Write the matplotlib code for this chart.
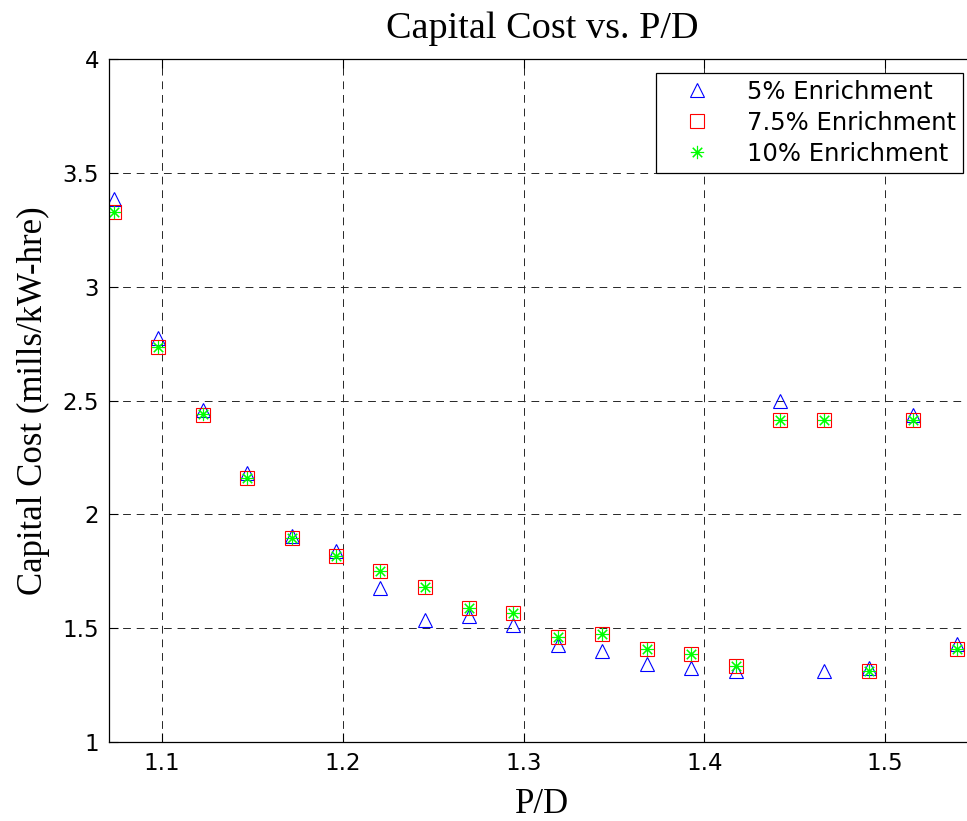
import matplotlib
matplotlib.use("Agg")
import matplotlib.pyplot as plt

# ---- data ----
pd_ratio = [1.0735, 1.0980, 1.1226, 1.1471, 1.1717, 1.1962, 1.2208, 1.2453, 1.2699, 1.2944,
            1.3190, 1.3435, 1.3681, 1.3926, 1.4172, 1.4417, 1.4663, 1.4908, 1.5154, 1.5399]
cost_5 = [3.387, 2.774, 2.461, 2.180, 1.907, 1.838, 1.675, 1.537, 1.555, 1.514,
          1.426, 1.402, 1.341, 1.325, 1.314, 2.500, 1.312, 1.327, 2.438, 1.432]
cost_75 = [3.331, 2.736, 2.439, 2.158, 1.895, 1.818, 1.751, 1.681, 1.591, 1.568,
           1.462, 1.476, 1.410, 1.386, 1.333, 2.416, 2.416, 1.311, 2.416, 1.410]
cost_10 = [3.329, 2.734, 2.440, 2.158, 1.895, 1.818, 1.751, 1.681, 1.591, 1.568,
           1.462, 1.476, 1.410, 1.386, 1.333, 2.416, 2.416, 1.311, 2.416, 1.410]
series_labels = ["5% Enrichment", "7.5% Enrichment", "10% Enrichment"]
x_ticks = [1.1, 1.2, 1.3, 1.4, 1.5]
y_ticks = [1, 1.5, 2, 2.5, 3, 3.5, 4]
y_tick_labels = ["1", "1.5", "2", "2.5", "3", "3.5", "4"]

W, H = 967, 821
fig = plt.figure(figsize=(W / 100, H / 100), dpi=100)
left, right, top, bottom = 109, 976, 59.3, 742
ax = fig.add_axes([left / W, 1 - bottom / H, (right - left) / W, (bottom - top) / H])

ax.plot(pd_ratio, cost_5, linestyle="none", marker="^", markersize=10.3,
        markerfacecolor="none", markeredgecolor=(0, 0, 1), markeredgewidth=0.8,
        label=series_labels[0])
ax.plot(pd_ratio, cost_75, linestyle="none", marker="s", markersize=10.0,
        markerfacecolor="none", markeredgecolor=(1, 0, 0), markeredgewidth=0.8,
        label=series_labels[1])
ax.plot(pd_ratio, cost_10, linestyle="none", marker=(8, 2, 0), markersize=9.5,
        markerfacecolor="none", markeredgecolor=(0, 1, 0), color=(0, 1, 0),
        markeredgewidth=0.8, label=series_labels[2])

ax.set_xlim(1.0707, 1.5502)
ax.set_ylim(1, 4)
ax.set_xticks(x_ticks)
ax.set_xticklabels([f"{t:g}" for t in x_ticks])
ax.set_yticks(y_ticks)
ax.set_yticklabels(y_tick_labels)

ax.grid(True, color="0.15", linestyle=(0, (8, 6)), linewidth=0.7)
ax.set_axisbelow(True)

for s in ["left", "bottom", "top"]:
    ax.spines[s].set_linewidth(0.9)
    ax.spines[s].set_color("black")
ax.spines["right"].set_visible(False)

ax.tick_params(direction="in", top=True, right=False, length=6.5, width=0.8,
               labelsize=16.5, pad=7)
for lab in ax.get_xticklabels() + ax.get_yticklabels():
    lab.set_fontfamily("DejaVu Sans")

serif = "Liberation Serif"
ax.set_title("Capital Cost vs. P/D", fontsize=27.5, fontfamily=serif, pad=15)
ax.set_xlabel("P/D", fontsize=25, fontfamily=serif)
ax.set_ylabel("Capital Cost (mills/kW-hre)", fontsize=25, fontfamily=serif)
ax.xaxis.set_label_coords(0.5, -0.068)
ax.yaxis.set_label_coords(-0.068, 0.5)

leg = ax.legend(loc="upper right", bbox_to_anchor=(0.985, 0.9804), borderaxespad=0,
                prop={"family": "DejaVu Sans", "size": 17.5}, fancybox=False,
                framealpha=1, edgecolor="black", borderpad=0.3, labelspacing=0.28,
                handlelength=2.8, handletextpad=0.65, numpoints=1)
leg.get_frame().set_linewidth(0.9)

fig.savefig("out.png", dpi=100)
